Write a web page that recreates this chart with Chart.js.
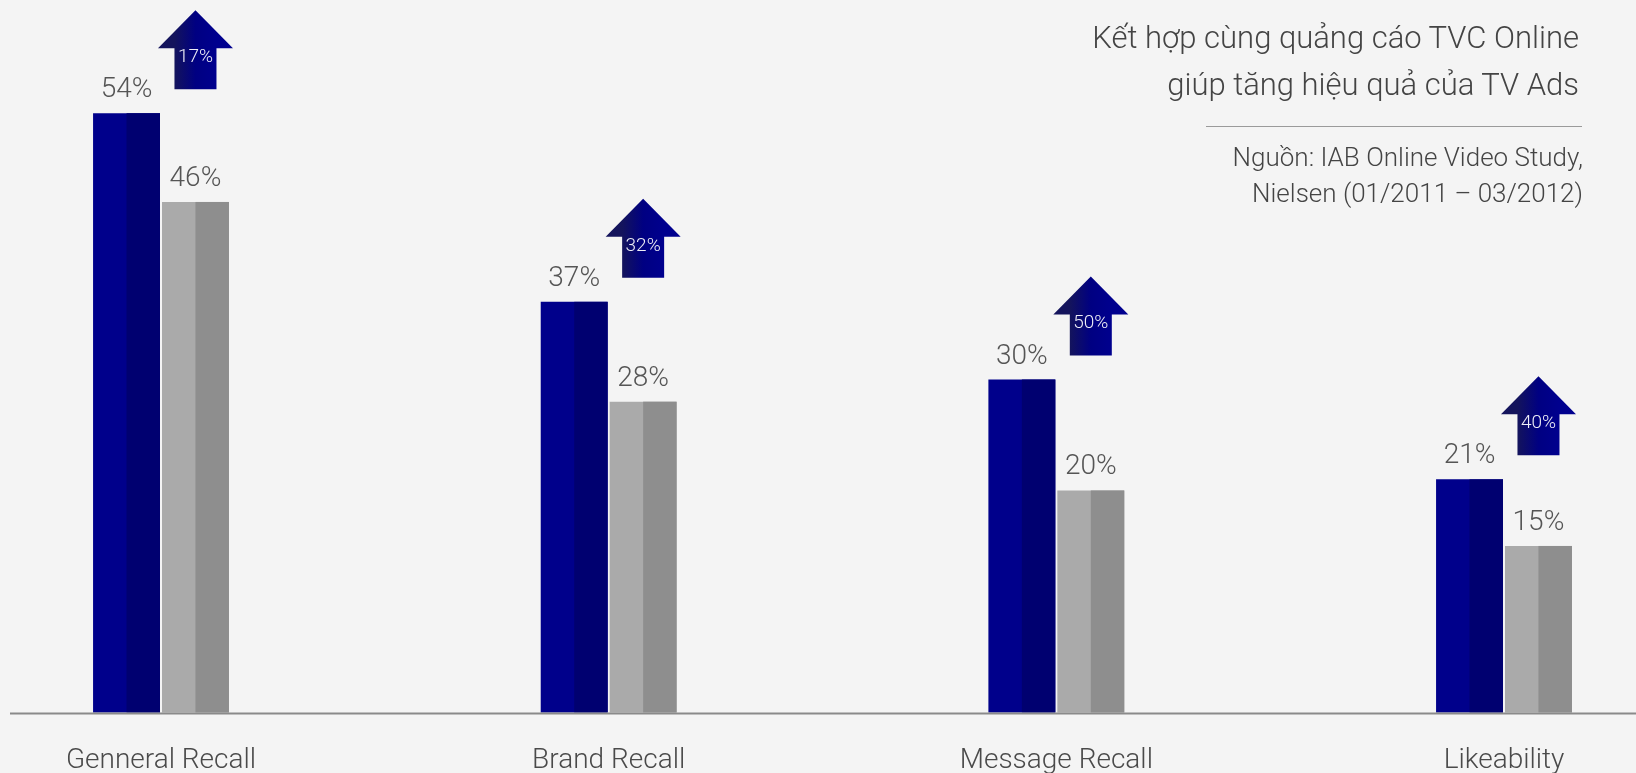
<!DOCTYPE html>
<html>
<head>
<meta charset="utf-8">
<script src="https://cdn.jsdelivr.net/npm/chart.js@4.4.1/dist/chart.umd.min.js"></script>
<style>
  html, body { margin: 0; padding: 0; background: #f4f4f4; overflow: hidden; }
  #wrap { position: relative; width: 1636px; height: 773px; overflow: hidden; }
  #chart { position: absolute; left: 0; top: 0; }
  .note { position: absolute; text-align: right; font-family: Roboto, sans-serif; font-weight: 300; color: #444; white-space: nowrap; }
  #title { right: 57px; top: 14px; font-size: 31px; line-height: 47px; }
  #rule { position: absolute; right: 54px; top: 126px; width: 376px; border-top: 1px solid #9a9a9a; }
  #source { right: 53px; top: 139px; font-size: 26px; line-height: 36px; }
</style>
</head>
<body>
<div id="wrap">
  <!-- canvas is taller than the page so the tick labels sit low like the reference; the extra is cut off -->
  <canvas id="chart" width="1636" height="810"></canvas>
  <div id="title" class="note">Kết hợp cùng quảng cáo TVC Online<br>giúp tăng hiệu quả của TV Ads</div>
  <div id="rule"></div>
  <div id="source" class="note">Nguồn: IAB Online Video Study,<br>Nielsen (01/2011 – 03/2012)</div>
</div>
<script>
const categories = ['Genneral Recall', 'Brand Recall', 'Message Recall', 'Likeability'];
const withOnline = [54, 37, 30, 21];
const tvOnly = [46, 28, 20, 15];
const uplift = [17, 32, 50, 40];

const FONT = 'Roboto, sans-serif';

// right half of each bar is a darker shade, then value labels, axis line and arrows
const _decorPlugin = {
  id: 'decor',
  afterDatasetsDraw(chart) {
    const ctx = chart.ctx;
    const darker = ['#000070', '#8e8e8e'];
    ctx.save();
    chart.data.datasets.forEach((ds, di) => {
      const meta = chart.getDatasetMeta(di);
      meta.data.forEach((bar, i) => {
        const { x, y, base, width } = bar.getProps(['x', 'y', 'base', 'width'], true);
        ctx.fillStyle = darker[di];
        ctx.fillRect(x, y, width / 2, base - y);
        ctx.fillStyle = '#555';
        ctx.font = '300 28px ' + FONT;
        ctx.textAlign = 'center';
        ctx.textBaseline = 'alphabetic';
        ctx.fillText(ds.data[i] + '%', x, y - 16);
      });
    });

    const yb = chart.scales.y.getPixelForValue(0);
    ctx.strokeStyle = '#8a8a8a';
    ctx.lineWidth = 2;
    ctx.beginPath();
    ctx.moveTo(10, yb + 1);
    ctx.lineTo(chart.width, yb + 1);
    ctx.stroke();

    const blue = chart.getDatasetMeta(0).data;
    const gray = chart.getDatasetMeta(1).data;
    uplift.forEach((v, i) => {
      const cx = gray[i].x;
      const bottom = blue[i].y - 24;
      const neck = bottom - 41;
      const tip = bottom - 79;
      const g = ctx.createLinearGradient(cx - 21, 0, cx + 21, 0);
      g.addColorStop(0, '#14145c');
      g.addColorStop(0.5, '#000082');
      g.addColorStop(1, '#00008e');
      ctx.fillStyle = g;
      ctx.beginPath();
      ctx.moveTo(cx - 21, bottom);
      ctx.lineTo(cx - 21, neck);
      ctx.lineTo(cx - 37.5, neck);
      ctx.lineTo(cx, tip);
      ctx.lineTo(cx + 37.5, neck);
      ctx.lineTo(cx + 21, neck);
      ctx.lineTo(cx + 21, bottom);
      ctx.closePath();
      ctx.fill();
      ctx.fillStyle = '#eeeef6';
      ctx.font = '300 19px ' + FONT;
      ctx.textAlign = 'center';
      ctx.textBaseline = 'middle';
      ctx.fillText(v + '%', cx, bottom - 32);
    });
    ctx.restore();
  },
};

new Chart(document.getElementById('chart'), {
  type: 'bar',
  data: {
    labels: categories,
    datasets: [
      { data: withOnline, backgroundColor: '#00008b' },
      { data: tvOnly, backgroundColor: '#aaaaaa' },
    ],
  },
  options: {
    responsive: false,
    devicePixelRatio: 1,
    animation: false,
    clip: false,
    categoryPercentage: 0.308,
    barPercentage: 0.971,
    layout: { padding: { left: 161, right: 132, top: 0, bottom: 0 } },
    plugins: { legend: { display: false }, tooltip: { enabled: false } },
    scales: {
      x: {
        offset: false,
        grid: { display: false, drawTicks: false },
        border: { display: false },
        ticks: { color: '#4a4a4a', padding: 32, font: { family: FONT, size: 28, weight: 300 } },
      },
      y: { display: false, min: 0, max: 64.2 },
    },
  },
  plugins: [_decorPlugin],
});
</script>
</body>
</html>
